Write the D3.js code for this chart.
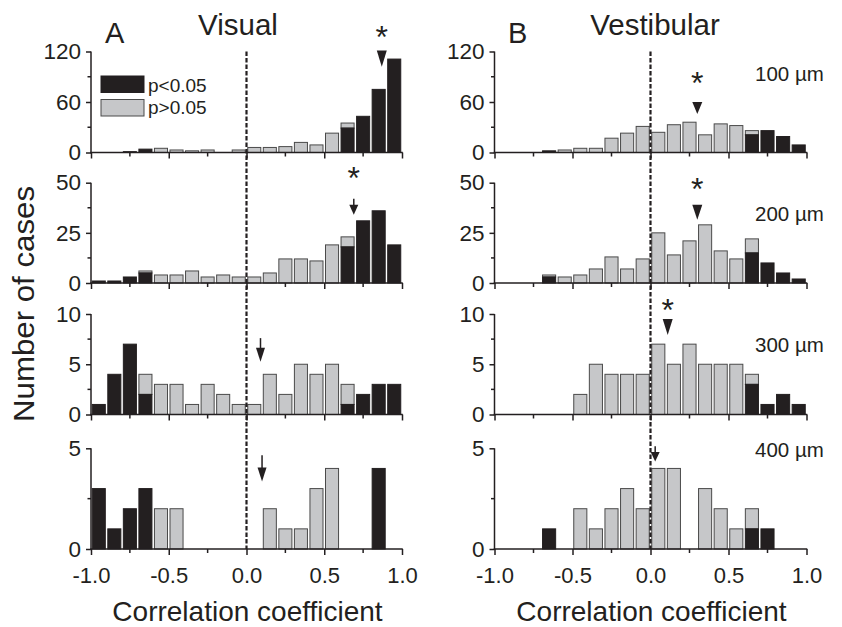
<!DOCTYPE html>
<html>
<head>
<meta charset="utf-8">
<script src="https://cdn.jsdelivr.net/npm/d3@7/dist/d3.min.js"></script>
<style>
  body { margin: 0; background: #fff; }
  svg { display: block; }
  text { font-family: "Liberation Sans", Arial, Helvetica, sans-serif; fill: #231f20; }
</style>
</head>
<body>
<svg id="chart" width="842" height="627"></svg>
<script>
// Lower edges of the correlation-coefficient bins (width 0.1)
const binStarts = [-1.0, -0.9, -0.8, -0.7, -0.6, -0.5, -0.4, -0.3, -0.2, -0.1,
                    0.0,  0.1,  0.2,  0.3,  0.4,  0.5,  0.6,  0.7,  0.8,  0.9];
const binWidth = 0.1;

// Visual condition: counts with p<0.05 (sig) and p>0.05 (ns), per spacing
const visual100Sig = [0,0,1,4,0,0,0,0,0,0, 0,0,0,0,0,0,29,43,75,111];
const visual100Ns  = [0,0,0,0,5,3,2,3,0,3, 6,6,7,12,9,23,6,0,0,0];
const visual200Sig = [1,1,3,5,0,0,0,0,0,0, 0,0,0,0,0,0,18,31,36,19];
const visual200Ns  = [0,0,0,1,4,4,6,3,4,3, 3,5,12,12,11,19,5,0,0,0];
const visual300Sig = [1,4,7,2,0,0,0,0,0,0, 0,0,0,0,0,0,1,2,3,3];
const visual300Ns  = [0,0,0,2,3,3,1,3,2,1, 1,4,2,5,4,5,2,0,0,0];
const visual400Sig = [3,1,2,3,0,0,0,0,0,0, 0,0,0,0,0,0,0,0,4,0];
const visual400Ns  = [0,0,0,0,2,2,0,0,0,0, 0,2,1,1,3,4,0,0,0,0];

// Vestibular condition
const vest100Sig = [0,0,0,2,0,0,0,0,0,0, 0,0,0,0,0,0,21,26,19,9];
const vest100Ns  = [0,0,0,0,3,5,5,17,23,31, 24,33,36,21,34,32,5,0,0,0];
const vest200Sig = [0,0,0,3,0,0,0,0,0,0, 0,0,0,0,0,0,15,10,5,2];
const vest200Ns  = [0,0,0,1,3,4,7,13,7,12, 25,14,21,29,16,12,7,0,0,0];
const vest300Sig = [0,0,0,0,0,0,0,0,0,0, 0,0,0,0,0,0,3,1,2,1];
const vest300Ns  = [0,0,0,0,0,2,5,4,4,4, 7,5,7,5,5,5,1,0,0,0];
const vest400Sig = [0,0,0,1,0,0,0,0,0,0, 0,0,0,0,0,0,1,1,0,0];
const vest400Ns  = [0,0,0,0,0,2,1,2,3,2, 4,4,0,3,2,1,1,0,0,0];

// Median correlation per panel and whether it differs from zero
const visualMedians = [0.87, 0.69, 0.09, 0.10];
const visualStars   = [true, true, false, false];
const vestMedians   = [0.30, 0.30, 0.11, 0.03];
const vestStars     = [true, true, true, false];

// Axis settings per row
const spacingLabels = ["100 \u00b5m", "200 \u00b5m", "300 \u00b5m", "400 \u00b5m"];
const yMaxByRow   = [120, 50, 10, 5];
const yLabelTicks = [[0, 60, 120], [0, 25, 50], [0, 5, 10], [0, 5]];
const yMinorTicks = [[30, 90], [12.5, 37.5], [2.5, 7.5], [2.5]];
const xLabelTicks = [-1.0, -0.5, 0.0, 0.5, 1.0];
const xMinorTicks = [-0.75, -0.25, 0.25, 0.75];

const columnTitles = ["Visual", "Vestibular"];
const panelLetters = ["A", "B"];
const legendLabels = ["p<0.05", "p>0.05"];

// ---- layout ----
const INK = "#231f20";
const GREY = "#c6c7c9";
const GREY_EDGE = "#4a4a4a";
const colRanges = [[91, 402], [494.5, 806.5]];
const rows = [
  { top: 51.5, bottom: 152.5 },
  { top: 182.7, bottom: 283 },
  { top: 314, bottom: 414.5 },
  { top: 448.3, bottom: 549 }
];
// marker placement as fractions of each panel's height
const markerStyle = [
  [ { kind: "tri",   tip: 0.85, top: 1.01, star: 1.17 },
    { kind: "arrow", tip: 0.68, top: 0.84, star: 1.08 },
    { kind: "arrow", tip: 0.525, top: 0.76, star: 0.9 },
    { kind: "arrow", tip: 0.67, top: 0.93, star: 1.05 } ],
  [ { kind: "tri",   tip: 0.38, top: 0.5, star: 0.72 },
    { kind: "tri",   tip: 0.63, top: 0.78, star: 0.97 },
    { kind: "tri",   tip: 0.79, top: 0.95, star: 1.065 },
    { kind: "arrow", tip: 0.87, top: 1.02, star: 1.1 } ]
];

const columns = [
  { sig: [visual100Sig, visual200Sig, visual300Sig, visual400Sig],
    ns:  [visual100Ns, visual200Ns, visual300Ns, visual400Ns],
    medians: visualMedians, stars: visualStars },
  { sig: [vest100Sig, vest200Sig, vest300Sig, vest400Sig],
    ns:  [vest100Ns, vest200Ns, vest300Ns, vest400Ns],
    medians: vestMedians, stars: vestStars }
];

const svg = d3.select("#chart");
// plain hyphen for negative tick values
const fmt = v => d3.format(".1f")(v).replace("\u2212", "-");

columns.forEach((col, c) => {
  const x = d3.scaleLinear().domain([-1, 1]).range(colRanges[c]);
  const g = svg.append("g");

  rows.forEach((row, r) => {
    const y = d3.scaleLinear().domain([0, yMaxByRow[r]]).range([row.bottom, row.top]);
    const pg = g.append("g");

    const bars = binStarts.map((b, i) => ({ b, sig: col.sig[r][i], ns: col.ns[r][i] }));
    const inset = 1.25;

    // grey (non-significant) part stacked on top of black part
    pg.selectAll("rect.ns").data(bars.filter(d => d.ns > 0)).join("rect")
      .attr("class", "ns")
      .attr("x", d => x(d.b) + inset)
      .attr("width", d => x(d.b + binWidth) - x(d.b) - 2 * inset)
      .attr("y", d => y(d.sig + d.ns))
      .attr("height", d => y(d.sig) - y(d.sig + d.ns))
      .attr("fill", GREY).attr("stroke", GREY_EDGE).attr("stroke-width", 1);

    pg.selectAll("rect.sig").data(bars.filter(d => d.sig > 0)).join("rect")
      .attr("class", "sig")
      .attr("x", d => x(d.b) + inset)
      .attr("width", d => x(d.b + binWidth) - x(d.b) - 2 * inset)
      .attr("y", d => y(d.sig))
      .attr("height", d => y(0) - y(d.sig))
      .attr("fill", INK).attr("stroke", INK).attr("stroke-width", 1);

    // y axis: labelled major ticks and unlabelled minor ticks
    const yAxis = pg.append("g").attr("transform", `translate(${x(-1)},0)`)
      .call(d3.axisLeft(y).tickValues(yLabelTicks[r]).tickSize(5).tickPadding(5).tickFormat(d3.format("d")));
    yAxis.selectAll(".tick line").attr("stroke", INK).attr("stroke-width", 1.5);
    yAxis.selectAll(".tick text").attr("font-size", 22.5).attr("fill", INK);
    yAxis.select(".domain").remove();
    pg.append("g").selectAll("line").data(yMinorTicks[r]).join("line")
      .attr("x1", x(-1) - 3.5).attr("x2", x(-1))
      .attr("y1", d => y(d)).attr("y2", d => y(d))
      .attr("stroke", INK).attr("stroke-width", 1.5);
    pg.append("line")
      .attr("x1", x(-1)).attr("x2", x(-1))
      .attr("y1", y(0) + 0.75).attr("y2", y(yMaxByRow[r]))
      .attr("stroke", INK).attr("stroke-width", 1.5);

    // x axis
    const xAxis = pg.append("g").attr("transform", `translate(0,${y(0)})`)
      .call(d3.axisBottom(x).tickValues(xLabelTicks).tickSize(6).tickPadding(12)
        .tickFormat(r === rows.length - 1 ? fmt : () => ""));
    xAxis.selectAll(".tick line").attr("stroke", INK).attr("stroke-width", 1.5);
    xAxis.selectAll(".tick text").attr("font-size", 22).attr("fill", INK);
    xAxis.select(".domain").remove();
    pg.append("g").selectAll("line").data(xMinorTicks).join("line")
      .attr("x1", d => x(d)).attr("x2", d => x(d))
      .attr("y1", y(0)).attr("y2", y(0) + 4)
      .attr("stroke", INK).attr("stroke-width", 1.5);
    pg.append("line")
      .attr("x1", x(-1) - 0.75).attr("x2", x(1) + 0.75)
      .attr("y1", y(0)).attr("y2", y(0))
      .attr("stroke", INK).attr("stroke-width", 1.5);

    // median marker
    const m = markerStyle[c][r];
    const mx = x(col.medians[r]);
    const frac = f => y(f * yMaxByRow[r]);
    const tipY = frac(m.tip), topY = frac(m.top);
    if (m.kind === "tri") {
      pg.append("path")
        .attr("d", `M${mx - 5},${topY}L${mx + 5},${topY}L${mx},${tipY}Z`)
        .attr("fill", INK);
    } else {
      const headH = Math.min(14, (tipY - topY) * 0.62);
      pg.append("line")
        .attr("x1", mx).attr("x2", mx)
        .attr("y1", topY).attr("y2", tipY - headH + 1)
        .attr("stroke", INK).attr("stroke-width", 1.5);
      pg.append("path")
        .attr("d", `M${mx - 4.5},${tipY - headH}L${mx + 4.5},${tipY - headH}L${mx},${tipY}Z`)
        .attr("fill", INK);
    }
    if (col.stars[r]) {
      pg.append("text")
        .attr("x", mx).attr("y", frac(m.star) + 14)
        .attr("text-anchor", "middle")
        .attr("font-size", 32)
        .text("*");
    }

    if (c === 1) {
      const labelBase = [81, 221, 351.5, 456.5][r];
      pg.append("text")
        .attr("x", 755).attr("y", labelBase)
        .attr("font-size", 20.5)
        .text(spacingLabels[r]);
    }
  });

  // zero line across all rows
  g.append("line")
    .attr("x1", x(0)).attr("x2", x(0))
    .attr("y1", rows[0].top).attr("y2", rows[rows.length - 1].bottom)
    .attr("stroke", INK).attr("stroke-width", 2.2)
    .attr("stroke-dasharray", "4.5,2");

  // column title, panel letter, x title
  const mid = (colRanges[c][0] + colRanges[c][1]) / 2;
  g.append("text").attr("x", [238, 655][c]).attr("y", 35)
    .attr("text-anchor", "middle").attr("font-size", 29.5).text(columnTitles[c]);
  g.append("text").attr("x", [105, 508][c]).attr("y", 42.5)
    .attr("font-size", 29).text(panelLetters[c]);
  g.append("text").attr("x", mid + 1).attr("y", 621)
    .attr("text-anchor", "middle").attr("font-size", 28).text("Correlation coefficient");
});

// legend
const legend = svg.append("g");
[INK, GREY].forEach((fill, i) => {
  legend.append("rect")
    .attr("x", 101).attr("y", [76, 99.5][i]).attr("width", 43).attr("height", 16.5)
    .attr("fill", fill).attr("stroke", i ? GREY_EDGE : INK).attr("stroke-width", 1);
  legend.append("text")
    .attr("x", 148).attr("y", [91.5, 113.5][i])
    .attr("font-size", 19).text(legendLabels[i]);
});

// y title
svg.append("text")
  .attr("transform", "translate(34,304) rotate(-90)")
  .attr("text-anchor", "middle").attr("font-size", 29)
  .attr("textLength", 236).attr("lengthAdjust", "spacingAndGlyphs")
  .text("Number of cases");
</script>
</body>
</html>
